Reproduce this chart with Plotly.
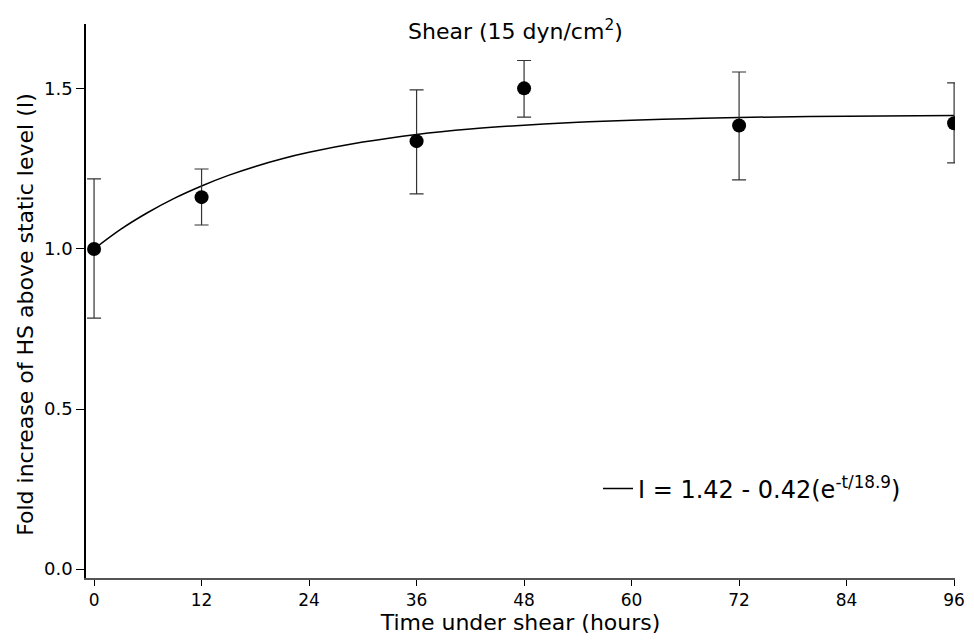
import plotly.graph_objects as go

# Data points
time_h = [0, 12, 36, 48, 72, 96]
fold_I = [1.0, 1.162, 1.337, 1.502, 1.386, 1.393]
err_plus = [0.219, 0.088, 0.160, 0.087, 0.167, 0.126]
err_minus = [0.216, 0.087, 0.165, 0.090, 0.170, 0.124]

# Fit curve values (I = 1.42 - 0.42 e^(-t/18.9))
fit_t = [0, 3, 6, 9, 12, 15, 18, 21, 24, 30, 36, 42, 48, 54, 60, 66, 72, 84, 96]
fit_I = [1.000, 1.062, 1.114, 1.159, 1.197, 1.230, 1.258, 1.282, 1.302, 1.334,
         1.358, 1.375, 1.387, 1.396, 1.402, 1.407, 1.411, 1.415, 1.417]

x_ticks = [0, 12, 24, 36, 48, 60, 72, 84, 96]
y_ticks = [0.0, 0.5, 1.0, 1.5]
y_tick_text = ["0.0", "0.5", "1.0", "1.5"]

X_RANGE = [-0.9, 96.1]
Y_RANGE = [-0.028, 1.703]

FONT = "DejaVu Sans"
PLOT_W = 966 - 78 - 19

fig = go.Figure()

fig.add_trace(go.Scatter(
    x=fit_t, y=fit_I, mode="lines", line=dict(color="black", width=1.5, shape="spline"),
    name="I = 1.42 - 0.42(e<sup>-t/18.9</sup>)", showlegend=True,
))

fig.add_trace(go.Scatter(
    x=time_h, y=fold_I, mode="markers",
    marker=dict(color="black", size=14),
    error_y=dict(type="data", symmetric=False, array=err_plus, arrayminus=err_minus,
                 color="#333333", thickness=1.2, width=7),
    showlegend=False,
))

fig.update_layout(
    width=966, height=627,
    margin=dict(l=78, r=19, t=16, b=57),
    paper_bgcolor="white", plot_bgcolor="white",
    font=dict(family=FONT, color="black", size=17),
    legend=dict(x=(598 - 86) / PLOT_W, y=0.161, xanchor="left", yanchor="middle",
                bgcolor="rgba(0,0,0,0)", font=dict(size=24, family=FONT)),
    annotations=[
        dict(text="Shear (15 dyn/cm<sup>2</sup>)", x=(515 - 86) / PLOT_W,
             y=1 - (30 - 24) / 554,
             xref="paper", yref="paper",
             xanchor="center", yanchor="middle", showarrow=False,
             font=dict(size=22, family=FONT)),
        dict(text="Fold increase of HS above static level (I)", textangle=-90,
             x=(26 - 86) / PLOT_W, y=0.475, xref="paper", yref="paper",
             xanchor="center", yanchor="middle", showarrow=False,
             font=dict(size=22, family=FONT)),
    ],
    xaxis=dict(
        range=X_RANGE, tickvals=x_ticks, ticks="outside", ticklen=6, tickwidth=1,
        tickcolor="black", showline=True, linecolor="#555555", linewidth=2,
        showgrid=False, zeroline=False, automargin=False, ticklabeloverflow="allow",
        title=dict(text="Time under shear (hours)", font=dict(size=22), standoff=16),
        tickfont=dict(size=17),
    ),
    yaxis=dict(
        range=Y_RANGE, tickvals=y_ticks, ticktext=y_tick_text, ticks="outside",
        ticklen=8, tickwidth=1, tickcolor="black", showline=True, linecolor="black",
        linewidth=1.5, showgrid=False, zeroline=False, automargin=False,
        tickfont=dict(size=18),
    ),
    xaxis2=dict(overlaying="x", range=X_RANGE, tickvals=x_ticks, ticks="inside",
                ticklen=7, tickwidth=1, tickcolor="black", showticklabels=False,
                showline=False, showgrid=False, zeroline=False, side="bottom",
                automargin=False),
    yaxis2=dict(overlaying="y", range=Y_RANGE, tickvals=y_ticks, ticks="inside",
                ticklen=6, tickwidth=1, tickcolor="black", showticklabels=False,
                showline=False, showgrid=False, zeroline=False, side="left",
                automargin=False),
)

fig.write_html("out.html")
